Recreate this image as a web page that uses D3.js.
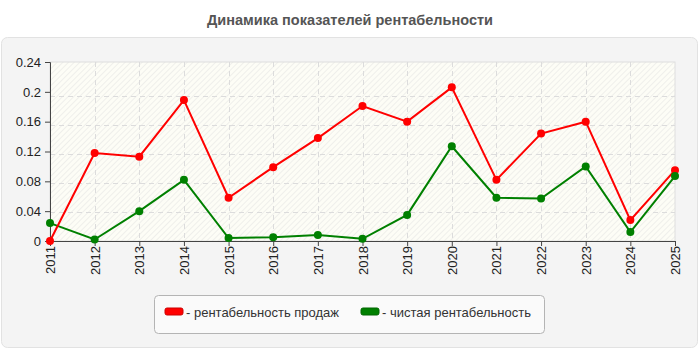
<!DOCTYPE html>
<html lang="ru">
<head>
  <meta charset="utf-8">
  <title>Динамика показателей рентабельности</title>
  <script src="https://d3js.org/d3.v7.min.js"></script>
  <style>
    body { margin: 0; background: #fff; }
    text { font-family: "Liberation Sans", Arial, sans-serif; }
  </style>
</head>
<body>
<div id="chart"></div>
<script>
  // chart data
  var years = ["2011", "2012", "2013", "2014", "2015", "2016", "2017", "2018",
               "2019", "2020", "2021", "2022", "2023", "2024", "2025"];
  var salesProfit = [0, 0.118, 0.113, 0.189, 0.058, 0.099, 0.138, 0.181,
                     0.160, 0.206, 0.082, 0.144, 0.160, 0.028, 0.095];
  var netProfit = [0.024, 0.002, 0.040, 0.082, 0.004, 0.005, 0.008, 0.003,
                   0.035, 0.127, 0.058, 0.057, 0.100, 0.012, 0.087];
  var yTicks = [0, 0.04, 0.08, 0.12, 0.16, 0.2, 0.24];
  var seriesNames = ["- рентабельность продаж", "- чистая рентабельность"];
  var seriesColors = ["#ff0000", "#008000"];

  var width = 700, height = 350;
  var plot = { left: 50, right: 675, top: 62, bottom: 241 };
  var font = "Liberation Sans, Arial, sans-serif";

  var svg = d3.select("#chart").append("svg")
    .attr("width", width)
    .attr("height", height);

  // hatch pattern for plot background
  var defs = svg.append("defs");
  var pat = defs.append("pattern")
    .attr("id", "hatch")
    .attr("patternUnits", "userSpaceOnUse")
    .attr("width", 4).attr("height", 4)
    .attr("patternTransform", "rotate(45)");
  pat.append("rect").attr("width", 4).attr("height", 4).attr("fill", "#fdfdf6");
  pat.append("line").attr("x1", 0).attr("y1", 0).attr("x2", 0).attr("y2", 4)
    .attr("stroke", "#ebebe8").attr("stroke-width", 1.5);

  // title
  svg.append("text")
    .attr("x", 350).attr("y", 25)
    .attr("text-anchor", "middle")
    .attr("font-size", "14.5px")
    .attr("font-weight", "bold")
    .attr("fill", "#555")
    .text("Динамика показателей рентабельности");

  // outer panel
  svg.append("rect")
    .attr("x", 1.5).attr("y", 37.5)
    .attr("width", 696).attr("height", 310)
    .attr("rx", 6)
    .attr("fill", "#f4f4f4")
    .attr("stroke", "#e2e2e2");

  var x = d3.scalePoint().domain(years).range([plot.left, plot.right]);
  var y = d3.scaleLinear().domain([0, 0.24]).range([plot.bottom, plot.top]);
  // grid lines in the original sit on a slightly tighter spacing than the labels
  var yGrid = d3.scaleLinear().domain([0, 0.24]).range([plot.bottom, 67]);

  svg.append("rect")
    .attr("x", plot.left).attr("y", plot.top)
    .attr("width", plot.right - plot.left)
    .attr("height", plot.bottom - plot.top)
    .attr("fill", "url(#hatch)")
    .attr("stroke", "#dedede");

  var g = svg.append("g");

  // grid
  g.selectAll(".hgrid")
    .data(yTicks.filter(function(d) { return d > 0 && d < 0.24; }))
    .enter().append("line")
    .attr("class", "hgrid")
    .attr("x1", plot.left).attr("x2", plot.right)
    .attr("y1", function(d) { return Math.round(yGrid(d)) + 0.5; })
    .attr("y2", function(d) { return Math.round(yGrid(d)) + 0.5; })
    .attr("stroke", "#dcdcdc")
    .attr("stroke-dasharray", "5,4");

  g.selectAll(".vgrid")
    .data(years.slice(1, years.length - 1))
    .enter().append("line")
    .attr("class", "vgrid")
    .attr("x1", function(d) { return Math.round(x(d)) + 0.5; })
    .attr("x2", function(d) { return Math.round(x(d)) + 0.5; })
    .attr("y1", plot.top).attr("y2", plot.bottom)
    .attr("stroke", "#dcdcdc")
    .attr("stroke-dasharray", "5,4");

  // axes
  var yAxis = g.append("g")
    .attr("transform", "translate(" + plot.left + ",0)")
    .call(d3.axisLeft(y).tickValues(yTicks).tickSize(5).tickPadding(4)
      .tickFormat(function(d) { return String(+d.toFixed(2)); }));
  yAxis.selectAll("text").attr("font-size", "13px").attr("fill", "#222")
    .style("font-family", font);
  yAxis.selectAll("line, path").attr("stroke", "#444");

  var xAxis = g.append("g")
    .attr("transform", "translate(0," + plot.bottom + ")")
    .call(d3.axisBottom(x).tickSize(5).tickSizeOuter(0));
  xAxis.selectAll("text")
    .attr("font-size", "13px").attr("fill", "#222")
    .style("font-family", font)
    .attr("transform", "rotate(-90)")
    .attr("text-anchor", "end")
    .attr("x", -5).attr("y", 0).attr("dy", "0.35em");
  xAxis.selectAll("line, path").attr("stroke", "#444");

  // series
  var series = [
    { values: netProfit, color: seriesColors[1] },
    { values: salesProfit, color: seriesColors[0] }
  ];
  var line = d3.line()
    .x(function(d, i) { return x(years[i]); })
    .y(function(d) { return y(d); });

  series.forEach(function(s) {
    g.append("path")
      .datum(s.values)
      .attr("d", line)
      .attr("fill", "none")
      .attr("stroke", s.color)
      .attr("stroke-width", 2);
  });
  [series[1], series[0]].forEach(function(s) {
    g.selectAll(null)
      .data(s.values)
      .enter().append("circle")
      .attr("cx", function(d, i) { return x(years[i]); })
      .attr("cy", function(d) { return y(d); })
      .attr("r", 4)
      .attr("fill", s.color);
  });

  // legend
  var legend = svg.append("g");
  legend.append("rect")
    .attr("x", 154.5).attr("y", 295.5)
    .attr("width", 390).attr("height", 38)
    .attr("rx", 4)
    .attr("fill", "#fafafa")
    .attr("stroke", "#b4b4b4");
  var legendX = [165, 361];
  seriesNames.forEach(function(name, i) {
    legend.append("rect")
      .attr("x", legendX[i]).attr("y", 308)
      .attr("width", 18).attr("height", 7)
      .attr("rx", 2)
      .attr("fill", seriesColors[i])
      .attr("stroke", d3.color(seriesColors[i]).darker(0.6));
    legend.append("text")
      .attr("x", legendX[i] + 21).attr("y", 317)
      .attr("font-size", "13px")
      .attr("fill", "#333")
      .text(name);
  });
</script>
</body>
</html>
